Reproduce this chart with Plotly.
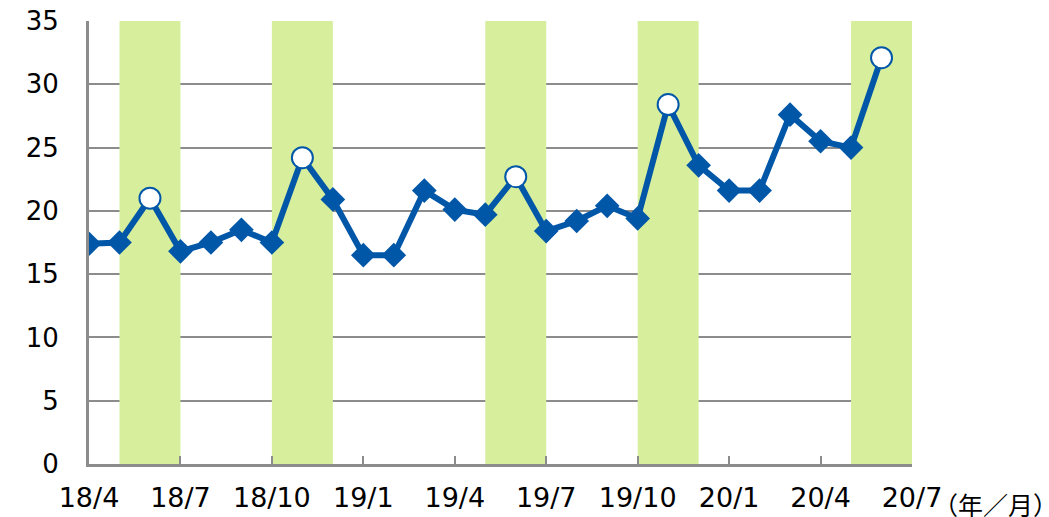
import plotly.graph_objects as go

# monthly values, 18/4 .. 20/6
months = ["18/4", "18/5", "18/6", "18/7", "18/8", "18/9", "18/10", "18/11", "18/12",
          "19/1", "19/2", "19/3", "19/4", "19/5", "19/6", "19/7", "19/8", "19/9",
          "19/10", "19/11", "19/12", "20/1", "20/2", "20/3", "20/4", "20/5", "20/6"]
values = [17.4, 17.5, 21.0, 16.8, 17.5, 18.5, 17.5, 24.2, 20.9,
          16.5, 16.5, 21.6, 20.1, 19.7, 22.7, 18.4, 19.2, 20.4,
          19.4, 28.4, 23.6, 21.6, 21.6, 27.6, 25.5, 25.0, 32.1]
highlight = [2, 7, 14, 19, 26]   # months marked with white circles
tick_labels = ["18/4", "18/7", "18/10", "19/1", "19/4", "19/7", "19/10", "20/1", "20/4", "20/7"]

BLUE = "#0057A8"
GREEN = "#D7EE9D"
GRAY = "#8C8C8C"

x = list(range(len(values)))

fig = go.Figure()

# green bands around highlighted months
for i in highlight:
    fig.add_shape(type="rect", xref="x", yref="y", x0=i - 1, x1=i + 1, y0=0, y1=35,
                  fillcolor=GREEN, line=dict(width=0), layer="between")

diamond_x = [i for i in x if i not in highlight]
fig.add_trace(go.Scatter(
    x=x, y=values, mode="lines",
    line=dict(color=BLUE, width=6),
    hoverinfo="skip", showlegend=False,
))
fig.add_trace(go.Scatter(
    x=diamond_x, y=[values[i] for i in diamond_x], mode="markers",
    marker=dict(symbol="diamond", size=19, color=BLUE),
    showlegend=False,
))
fig.add_trace(go.Scatter(
    x=highlight, y=[values[i] for i in highlight], mode="markers",
    marker=dict(symbol="circle", size=21, color="white", line=dict(color=BLUE, width=2)),
    showlegend=False,
))

fig.add_annotation(text="（年／月）", xref="paper", yref="paper", x=1.0235, y=0,
                   xanchor="left", yanchor="middle", yshift=-40, showarrow=False,
                   font=dict(family="Noto Sans CJK JP", size=25, color="black"))

fig.update_layout(
    width=1049, height=517,
    margin=dict(l=89, r=137, t=21, b=53),
    plot_bgcolor="white", paper_bgcolor="white",
    font=dict(family="DejaVu Sans", size=26, color="black"),
    xaxis=dict(
        range=[0, 27], tickvals=list(range(0, 28, 3)), ticktext=tick_labels,
        showgrid=False, zeroline=False, automargin=False,
        showline=True, linecolor=GRAY, linewidth=3,
        ticks="inside", ticklen=8, tickwidth=2, tickcolor=GRAY,
        tickfont=dict(size=27), ticklabelstandoff=8,
    ),
    yaxis=dict(
        range=[0, 35], dtick=5,
        showgrid=True, gridcolor=GRAY, gridwidth=2, zeroline=False, automargin=False,
        showline=True, linecolor=GRAY, linewidth=3,
        ticks="", ticklabelstandoff=22,
    ),
)

fig.write_html("out.html", config={"displayModeBar": False},
               post_script="document.body.style.margin='0';")
